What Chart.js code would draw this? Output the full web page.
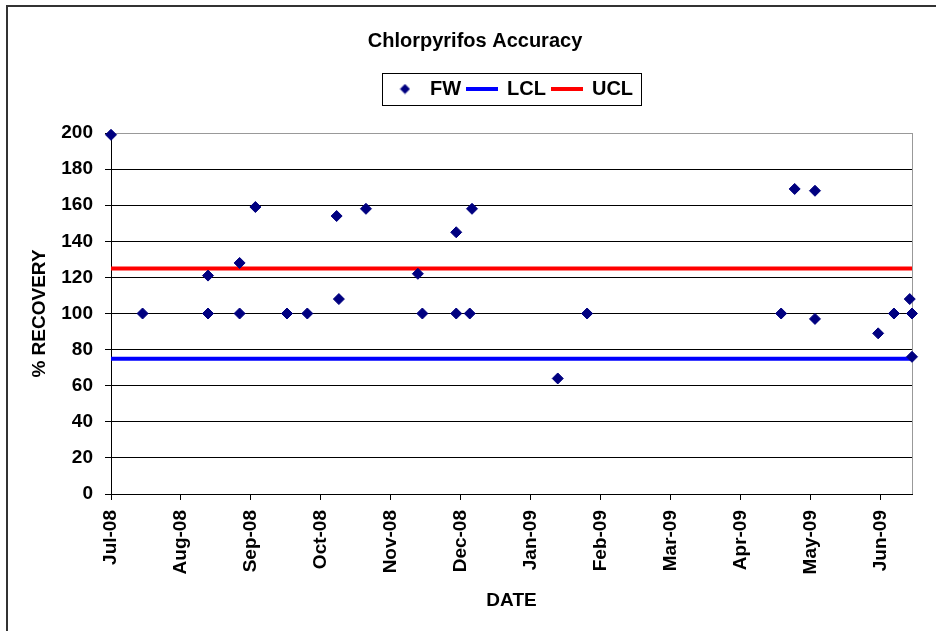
<!DOCTYPE html>
<html>
<head>
<meta charset="utf-8">
<title>Chlorpyrifos Accuracy</title>
<script src="https://cdn.jsdelivr.net/npm/chart.js@4.4.0/dist/chart.umd.min.js"></script>
<style>
body { margin: 0; background: #fff; }
#wrap { width: 936px; height: 631px; }
</style>
</head>
<body>
<div id="wrap"><canvas id="chart" width="936" height="631"></canvas></div>
<script>
// FW recoveries
var sampleDates = ['2008-07-01', '2008-07-15', '2008-08-13', '2008-08-13', '2008-08-27', '2008-08-27',
	'2008-09-03', '2008-09-17', '2008-09-26', '2008-10-09', '2008-10-10', '2008-10-22',
	'2008-11-14', '2008-11-16', '2008-12-01', '2008-12-01', '2008-12-07', '2008-12-08',
	'2009-01-15', '2009-01-28', '2009-04-24', '2009-04-30', '2009-05-09', '2009-05-09',
	'2009-06-06', '2009-06-13', '2009-06-20', '2009-06-21', '2009-06-21'];
var recovery = [199, 100, 121, 100, 128, 100,
	159, 100, 100, 154, 108, 158,
	122, 100, 145, 100, 100, 158,
	64, 100, 100, 169, 168, 97,
	89, 100, 108, 100, 76];
var lclValue = 75;
var uclValue = 125;
var monthLabels = ['Jul-08', 'Aug-08', 'Sep-08', 'Oct-08', 'Nov-08', 'Dec-08',
	'Jan-09', 'Feb-09', 'Mar-09', 'Apr-09', 'May-09', 'Jun-09'];
var axisStart = '2008-07-01';
var axisEnd = '2009-06-21';
var monthStep = 31; // excel major unit, in days

function dayOf(s) {
	var p = s.split('-'), q = axisStart.split('-');
	return (Date.UTC(+p[0], p[1] - 1, +p[2]) - Date.UTC(+q[0], q[1] - 1, +q[2])) / 86400000;
}

var xMax = dayOf(axisEnd);
var fwPoints = [];
for (var i = 0; i < sampleDates.length; i++) {
	fwPoints.push({ x: dayOf(sampleDates[i]), y: recovery[i] });
}

//little pictures for the legend
function mark(w, h, draw) {
	var c = document.createElement('canvas');
	c.width = w; c.height = h;
	draw(c.getContext('2d'));
	return c;
}
var legendMarks = [
	mark(11, 11, function (g) {
		g.fillStyle = '#000080';
		g.beginPath(); g.moveTo(5.5, 0.5); g.lineTo(10.5, 5.5); g.lineTo(5.5, 10.5); g.lineTo(0.5, 5.5); g.closePath(); g.fill();
	}),
	mark(32, 4, function (g) { g.fillStyle = '#0000ff'; g.fillRect(0, 0, 32, 4); }),
	mark(32, 4, function (g) { g.fillStyle = '#ff0000'; g.fillRect(0, 0, 32, 4); })
];

var frame = {
	id: 'frame',
	beforeInit: function (chart) {
		var fit = chart.legend.fit;
		chart.legend.fit = function () { fit.call(this); this.height = 60; };
	},
	afterLayout: function (chart) {
		var a = chart.chartArea, lg = chart.legend, tb = chart.titleBlock;
		var dx = (a.left + a.right) / 2 - (lg.left + lg.right) / 2;
		lg.left += dx; lg.right += dx;
		tb.left += 15; tb.right += 15;
	},
	beforeDraw: function (chart) {
		var c = chart.ctx;
		c.save();
		c.fillStyle = '#fff';
		c.fillRect(0, 0, chart.width, chart.height);
		c.strokeStyle = '#333';
		c.lineWidth = 2;
		c.beginPath();
		c.moveTo(7, chart.height); c.lineTo(7, 6); c.lineTo(chart.width, 6);
		c.stroke();
		c.restore();
	},
	beforeDatasetsDraw: function (chart) {
		var a = chart.chartArea, c = chart.ctx;
		c.save();
		c.strokeStyle = '#999';
		c.lineWidth = 1;
		c.beginPath(); c.moveTo(a.right + 0.5, a.top); c.lineTo(a.right + 0.5, a.bottom); c.stroke();
		c.restore();
	},
	afterDraw: function (chart) {
		var lg = chart.legend, c = chart.ctx;
		var p = lg.options.labels.padding;
		var lw = lg.lineWidths[0];
		var x0 = ((lg.left + p) + (lg.right - lw)) / 2;
		var x1 = x0 + lw - p;
		var cy = lg.top + p + 10;
		c.save();
		c.strokeStyle = '#000';
		c.lineWidth = 1;
		c.strokeRect(Math.round(x0 - 8) + 0.5, Math.round(cy - 16) + 0.5, Math.round(x1 - x0 + 16), 32);
		c.restore();
	}
};

Chart.defaults.font.family = "'Liberation Sans', Arial, sans-serif";
Chart.defaults.color = '#000';

var ctx = document.getElementById('chart');

var data = {
	datasets: [
		{
			label: 'FW',
			data: fwPoints,
			pointStyle: 'rectRot',
			pointRadius: 5.5,
			pointBackgroundColor: '#000080',
			pointBorderColor: '#000080',
			showLine: false,
			clip: false
		}, {
			label: 'LCL',
			data: [{ x: 0, y: lclValue }, { x: xMax, y: lclValue }],
			showLine: true,
			borderColor: '#0000ff',
			borderWidth: 4,
			pointRadius: 0
		}, {
			label: 'UCL',
			data: [{ x: 0, y: uclValue }, { x: xMax, y: uclValue }],
			showLine: true,
			borderColor: '#ff0000',
			borderWidth: 4,
			pointRadius: 0
		}
	]
};

var options = {
	responsive: false,
	animation: false,
	layout: { padding: { left: 8, right: 24, top: 0, bottom: 10 } },
	plugins: {
		tooltip: { enabled: false },
		title: {
			display: true,
			text: 'Chlorpyrifos Accuracy',
			color: '#000',
			font: { size: 20, weight: 'bold' },
			padding: { top: 29, bottom: 20 }
		},
		legend: {
			display: true,
			position: 'top',
			labels: {
				usePointStyle: true,
				pointStyleWidth: 30,
				padding: 6,
				color: '#000',
				font: { size: 20, weight: 'bold' },
				generateLabels: function (chart) {
					var items = Chart.defaults.plugins.legend.labels.generateLabels(chart);
					items.forEach(function (it, i) { it.pointStyle = legendMarks[i]; });
					return items;
				}
			}
		}
	},
	scales: {
		x: {
			type: 'linear',
			min: 0,
			max: xMax,
			afterBuildTicks: function (scale) {
				scale.ticks = monthLabels.map(function (l, i) { return { value: i * monthStep }; });
			},
			afterFit: function (scale) { scale.height = 127; },
			ticks: {
				autoSkip: false,
				minRotation: 90,
				maxRotation: 90,
				padding: 10,
				color: '#000',
				font: { size: 19, weight: 'bold' },
				callback: function (v, i) { return monthLabels[i]; }
			},
			grid: { drawOnChartArea: false, drawTicks: true, tickLength: 6, color: '#000' },
			border: { color: '#000', width: 1 },
			title: {
				display: true,
				text: 'DATE',
				color: '#000',
				font: { size: 19, weight: 'bold' },
				padding: { top: 0, bottom: 9 }
			}
		},
		y: {
			min: 0,
			max: 200,
			afterFit: function (scale) { scale.width = 103; },
			ticks: { stepSize: 20, padding: 12, color: '#000', font: { size: 19, weight: 'bold' } },
			grid: {
				color: function (c) { return c.tick && c.tick.value === 200 ? '#999' : '#000'; },
				tickColor: '#000',
				tickLength: 6
			},
			border: { color: '#000', width: 1 },
			title: {
				display: true,
				text: '% RECOVERY',
				color: '#000',
				font: { size: 19, weight: 'bold' },
				padding: { top: 20, bottom: 0 }
			}
		}
	}
};

var chart = new Chart(ctx, {
	type: 'scatter',
	data: data,
	options: options,
	plugins: [frame]
});
</script>
</body>
</html>
